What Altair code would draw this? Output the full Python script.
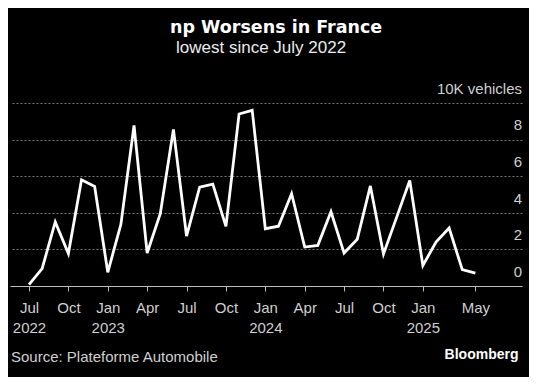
import json
import altair as alt
import pandas as pd

# Monthly data, Jul 2022 - May 2025 (10K vehicles)
months = [
    "2022-07", "2022-08", "2022-09", "2022-10", "2022-11", "2022-12",
    "2023-01", "2023-02", "2023-03", "2023-04", "2023-05", "2023-06",
    "2023-07", "2023-08", "2023-09", "2023-10", "2023-11", "2023-12",
    "2024-01", "2024-02", "2024-03", "2024-04", "2024-05", "2024-06",
    "2024-07", "2024-08", "2024-09", "2024-10", "2024-11", "2024-12",
    "2025-01", "2025-02", "2025-03", "2025-04", "2025-05",
]
values = [
    0.08, 0.95, 3.50, 1.77, 5.80, 5.44,
    0.75, 3.37, 8.77, 1.80, 3.95, 8.55,
    2.73, 5.40, 5.57, 3.26, 9.40, 9.60,
    3.13, 3.27, 5.04, 2.13, 2.22, 4.06,
    1.80, 2.55, 5.47, 1.75, 3.75, 5.77,
    1.12, 2.40, 3.17, 0.89, 0.70,
]

tick_idx = [0, 3, 6, 9, 12, 15, 18, 21, 24, 27, 30, 34]
tick_month = ["Jul", "Oct", "Jan", "Apr", "Jul", "Oct", "Jan", "Apr", "Jul", "Oct", "Jan", "May"]
tick_year = ["2022", "", "2023", "", "", "", "2024", "", "", "", "2025", ""]
y_ticks = [0, 2, 4, 6, 8, 10]

title_text = "np Worsens in France"
subtitle_text = "lowest since July 2022"
source_text = "Source: Plateforme Automobile"
brand_text = "Bloomberg"
unit_text = "10K vehicles"

df = pd.DataFrame({"month": months, "value": values})
df["idx"] = range(len(df))

tick_labels = [[m, y] if y else [m] for m, y in zip(tick_month, tick_year)]
x_label_expr = f"{json.dumps(tick_labels)}[indexof({json.dumps(tick_idx)}, datum.value)]"

LABEL_FONT = "Liberation Sans"
LABEL_COLOR = "#cfcfcf"

line = alt.Chart(df).mark_line(color="white", strokeWidth=2.8, strokeJoin="miter").encode(
    x=alt.X(
        "idx:Q",
        scale=alt.Scale(domain=[-1.447, 37.55], nice=False, zero=False),
        axis=alt.Axis(
            values=tick_idx,
            labelExpr=x_label_expr,
            title=None,
            grid=False,
            domain=True,
            domainColor="#bdbdbd",
            domainWidth=1,
            ticks=True,
            tickColor="#bdbdbd",
            tickSize=5,
            labelFont=LABEL_FONT,
            labelFontSize=15,
            labelColor=LABEL_COLOR,
            labelPadding=9,
            labelLineHeight=20,
            labelFlush=False,
            labelOverlap=False,
        ),
    ),
    y=alt.Y(
        "value:Q",
        scale=alt.Scale(domain=[0, 10], nice=False, zero=True),
        axis=alt.Axis(
            orient="right",
            values=y_ticks,
            labelExpr=f"datum.value == 10 ? '{unit_text}' : datum.label",
            title=None,
            grid=True,
            gridColor="#7a7a7a",
            gridDash=[2, 2],
            gridWidth=1,
            domain=False,
            ticks=False,
            tickSize=0,
            labelAlign="right",
            labelBaseline="alphabetic",
            labelPadding=-0.5,
            labelOffset=-9.7,
            labelFont=LABEL_FONT,
            labelFontSize=15,
            labelColor=LABEL_COLOR,
            labelFlush=False,
            labelOverlap=False,
        ),
    ),
)

one = alt.Data(values=[{}])

title = alt.Chart(one).mark_text(
    text=title_text, font="DejaVu Sans", fontWeight="bold", fontSize=17.5,
    color="white", align="left", baseline="alphabetic",
).encode(x=alt.value(160), y=alt.value(-70.3))

subtitle = alt.Chart(one).mark_text(
    text=subtitle_text, font=LABEL_FONT, fontSize=17,
    color="#ececec", align="left", baseline="alphabetic",
).encode(x=alt.value(166), y=alt.value(-49.7))

source = alt.Chart(one).mark_text(
    text=source_text, font=LABEL_FONT, fontSize=15,
    color=LABEL_COLOR, align="left", baseline="alphabetic",
).encode(x=alt.value(1), y=alt.value(259.3))

brand = alt.Chart(one).mark_text(
    text=brand_text, font=LABEL_FONT, fontWeight="bold", fontSize=14,
    color="white", align="right", baseline="alphabetic",
).encode(x=alt.value(508.5), y=alt.value(256.3))

chart = alt.layer(line, title, subtitle, source, brand).properties(
    width=512,
    height=183,
    padding={"left": 2, "top": 95, "right": 7, "bottom": 91},
    autosize=alt.AutoSizeParams(type="none"),
    background="#000000",
).configure_view(stroke=None)

chart.save("out.html", embed_options={"renderer": "svg", "actions": False})
